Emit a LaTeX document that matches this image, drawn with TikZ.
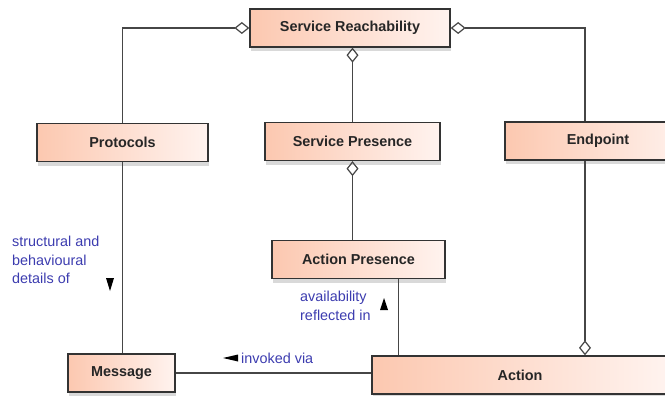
\documentclass[tikz,border=0pt]{standalone}
\usepackage{fontspec}
\setmainfont{Liberation Sans}
\usetikzlibrary{arrows.meta, calc, shadows}
\definecolor{boxleft}{RGB}{252,200,176}
\definecolor{boxright}{RGB}{255,243,239}
\definecolor{roleblue}{RGB}{60,60,175}
\definecolor{linegray}{RGB}{70,70,70}

\begin{document}
\begin{tikzpicture}[x = 1pt, y = -1pt,
    entity/.style = {draw = black!80, line width = 1.3pt, left color = boxleft, right color = boxright,
        minimum height = 38pt, inner sep = 0pt, text = black!85, font = \fontsize{14.4}{16}\selectfont\bfseries,
        drop shadow = {shadow xshift = 1pt, shadow yshift = -4pt, opacity = 0.3}},
    link/.style = {draw = linegray, line width = 1.2pt},
    agg/.style = {link, -{Diamond[open, length = 15pt, width = 12pt, line width = 1.2pt]}},
    role/.style = {text = roleblue, align = left, inner sep = 0pt, font = \fontsize{14.4}{18.5}\selectfont}]
    \useasboundingbox (0,0) rectangle (665,396);
    \clip (0,0) rectangle (665,396);

    % classes
    \node [entity, minimum width = 200pt] (reach) at (350,28) {Service Reachability};
    \node [entity, minimum width = 171pt] (proto) at (122.5,142.5) {Protocols};
    \node [entity, minimum width = 175pt] (spres) at (352.5,141.5) {Service Presence};
    \node [entity, minimum width = 186pt] (endp) at (598,141) {Endpoint};
    \node [entity, minimum width = 173pt] (apres) at (358.5,259.5) {Action Presence};
    \node [entity, minimum width = 107pt] (msg) at (121.5,373) {Message};
    \node [entity, minimum width = 296pt] (action) at (520,375) {Action};

    \coordinate (ep top) at ([xshift = -13pt] endp.north);
    \coordinate (ep bot) at ([xshift = -13pt] endp.south);
    \coordinate (ap bot) at ([xshift = 40pt] apres.south);

    % aggregations
    \draw [agg] (proto.north) |- (reach.west);
    \draw [agg] (ep top) |- (reach.east);
    \draw [agg] (spres.north) -- (spres.north |- reach.south);
    \draw [agg] (spres.south |- apres.north) -- (spres.south);
    \draw [agg] (ep bot) -- (ep bot |- action.north);

    % associations
    \draw [link] (proto.south) -- (proto.south |- msg.north);
    \draw [link] (ap bot) -- (ap bot |- action.north);
    \draw [link] (msg.east) -- (msg.east -| action.west);

    % role names
    \node [role, anchor = north west] (detail) at (12,236) {structural and\\behavioural\\details of};
    \fill (106,278) -- (114,278) -- (110,291) -- cycle;
    \node [role, anchor = north west] (avail) at (300,291) {availability\\reflected in};
    \fill (380,310) -- (388,310) -- (384,298) -- cycle;
    \node [role, anchor = west] (invoke) at (241,358) {invoked via};
    \fill (238,354.5) -- (238,361.5) -- (223,358) -- cycle;
\end{tikzpicture}
\end{document}
